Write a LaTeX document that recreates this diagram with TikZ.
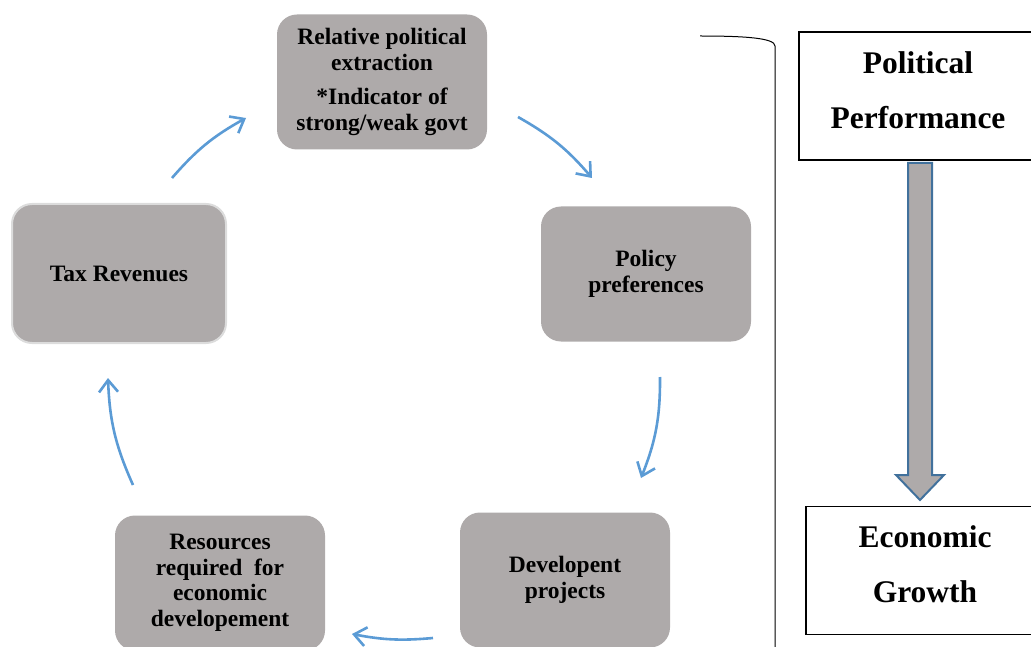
\documentclass[tikz,border=0pt]{standalone}
\usepackage{fontspec}
\setmainfont{Liberation Serif}
\usepackage{xcolor}
\usetikzlibrary{arrows.meta, positioning, calc}

\definecolor{boxgray}{RGB}{174,170,170}
\definecolor{flowblue}{RGB}{91,155,213}
\definecolor{arrowedge}{RGB}{65,113,156}
\definecolor{softedge}{RGB}{220,220,220}

\begin{document}
\begin{tikzpicture}[
			x=1pt, y=-1pt,
			box/.style={rectangle, rounded corners=20pt, fill=boxgray,
				minimum width=210pt, minimum height=135pt,
				align=center, font=\fontsize{23.5}{25.5}\selectfont\bfseries},
			perfbox/.style={rectangle, draw, line width=1.5pt, fill=white,
				minimum width=238pt, minimum height=128pt, text depth=12pt,
				align=center, font=\fontsize{31.5}{55}\selectfont\bfseries},
			arrow/.style={-{Straight Barb[length=12pt, width=19pt]}, line width=2.6pt, flowblue},
			bigarrow/.style={fill=boxgray, draw=arrowedge, line width=2pt, line join=miter}
			]
			\useasboundingbox (0,0) rectangle (1031,647);
			\clip (0,0) rectangle (1031,647);
			
			% cycle
			\node[box] (rpe) at (382,82)
			{Relative political\\ extraction\\[9pt] *Indicator of\\ strong/weak govt};
			\node[box] (pol) at (646,274) {Policy\\ preferences};
			\node[box] (dev) at (565,580) {Developent\\ projects};
			\node[box] (res) at (220,583)
			{Resources\\ required\ \ for\\ economic\\ developement};
			\node[box, draw=softedge, line width=2pt,
				minimum width=214pt, minimum height=139pt] (tax) at (119,273.5) {Tax Revenues};
			
			\coordinate (t1) at (172,178); \coordinate (t2) at (246,118);
			\coordinate (p1) at (518,117); \coordinate (p2) at (592,178);
			\coordinate (d1) at (660,377); \coordinate (d2) at (641,478);
			\coordinate (r1) at (433,638); \coordinate (r2) at (352,634);
			\coordinate (x1) at (133,485); \coordinate (x2) at (108,378);
			
			\draw[arrow] (t1) to[bend left=10] (t2);
			\draw[arrow] (p1) to[bend left=10] (p2);
			\draw[arrow] (d1) to[bend left=11] (d2);
			\draw[arrow] (r1) to[bend left=8] (r2);
			\draw[arrow] (x1) to[bend left=11] (x2);
			
			% bracket
			\draw[line width=1pt] (700,36) .. controls (745,36) and (775,38) .. (775,46) -- (775,647);
			
			% performance -> growth
			\node[perfbox] (pp) at (918,96) {Political\\ Performance};
			\node[perfbox] (eg) at (925,570.5) {Economic\\ Growth};
			
			\coordinate (atop) at (920,163);
			\coordinate (atip) at (920,500);
			\draw[bigarrow] ($(atop)+(-12,0)$) -- ($(atop)+(12,0)$) -- ($(atip)+(12,-25)$)
				-- ($(atip)+(24,-25)$) -- (atip) -- ($(atip)+(-24,-25)$)
				-- ($(atip)+(-12,-25)$) -- cycle;
		\end{tikzpicture}
\end{document}
